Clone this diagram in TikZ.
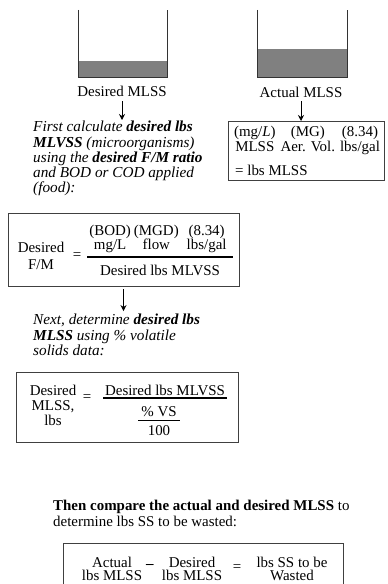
\documentclass[tikz,border=0pt]{standalone}
\usepackage{fontspec}
\setmainfont{Liberation Serif}
\usetikzlibrary{arrows,arrows.meta,positioning,shapes,calc}

\begin{document}
\begin{tikzpicture}[x=1bp, y=-1bp,
    every node/.style={inner sep=0pt, font=\fontsize{15}{16}\selectfont},
    note/.style={align=left, font=\itshape\fontsize{15.3}{15.3}\selectfont},
    tankwall/.style={line width=0.9pt, black!80},
    sludge/.style={fill=black!50},
    eqbox/.style={draw=black!75, line width=0.8pt, inner sep=0pt},
    fracbar/.style={line width=1.1pt},
    flow/.style={->, >={Stealth[length=6pt, width=6pt, inset=2pt]}, line width=0.8pt}]
  \clip (0,0) rectangle (387,584);

  % tanks
  \fill[sludge] (78,61) rectangle (167,77);
  \draw[tankwall] (78,10) -- (78,77) -- (167,77) -- (167,10);
  \fill[sludge] (257,49) rectangle (347,77);
  \draw[tankwall] (257,10) -- (257,77) -- (347,77) -- (347,10);
  \node (dlabel) at (122,91) {Desired MLSS};
  \node (alabel) at (301,92) {Actual MLSS};

  % actual lbs MLSS
  \node[eqbox, anchor=north west, minimum width=156bp, minimum height=59bp] (aerbox) at (228,121) {};
  \node (aerunits) at (307,141) {\begin{tabular}{@{}c@{\hspace{5pt}}c@{\hspace{5pt}}c@{}}(mg/\textit{L}) & (MG) & (8.34)\\[-1pt] MLSS & Aer. Vol. & lbs/gal\end{tabular}};
  \node[anchor=west] (aertotal) at (235,170) {= lbs MLSS};
  \draw[flow, shorten <=4pt] (alabel.south) -- (alabel.south |- aerbox.north);

  % desired lbs MLVSS
  \node[note, anchor=north west] (firststep) at (33,121) {First calculate \textbf{desired lbs}\\
    \textbf{MLVSS} (microorganisms)\\
    using the \textbf{desired F/M ratio}\\
    and BOD or COD applied\\
    (food):};
  \draw[flow, shorten <=5pt, shorten >=1pt] (dlabel.south) -- (dlabel.south |- firststep.north);

  \node[eqbox, minimum width=231bp, minimum height=73bp] (fmbox) at (123.5,249.5) {};
  \node[align=center, font=\fontsize{15}{17}\selectfont] (fmlhs) at (41,256) {Desired\\F/M};
  \node (fmeq) at (77,256) {=};
  \node (fmtop) at (158,239) {\begin{tabular}{@{}c@{\hspace{3pt}}c@{\hspace{8pt}}c@{}}(BOD) & (MGD) & (8.34)\\[-2pt] mg/L & flow & lbs/gal\end{tabular}};
  \draw[fracbar] (87,257) -- (233,257);
  \node (fmbottom) at (160,270) {Desired lbs MLVSS};

  % desired lbs MLSS
  \node[note, anchor=north west] (nextstep) at (33,314) {Next, determine \textbf{desired lbs}\\
    \textbf{MLSS} using \% volatile\\
    solids data:};
  \draw[flow, shorten <=3pt, shorten >=3pt] (fmbox.south) -- (fmbox.south |- nextstep.north);

  \node[eqbox, minimum width=222bp, minimum height=70bp] (vsbox) at (127,407) {};
  \node[align=center, font=\fontsize{15}{15}\selectfont] (vslhs) at (53,405) {Desired\\MLSS,\\lbs};
  \node (vseq) at (87,398) {=};
  \node (vstop) at (165,390) {Desired lbs MLVSS};
  \draw[fracbar] (103,398) -- (227,398);
  \node (vspct) at (159,412) {\% VS};
  \draw[line width=0.8pt] (138,420) -- (180,420);
  \node (vshundred) at (159,431) {100};

  % lbs SS to be wasted
  \node[anchor=north west, align=left] (thenstep) at (53,500) {\textbf{Then compare the actual and desired MLSS} to\\
    determine lbs SS to be wasted:};
  \node[eqbox, anchor=north west, minimum width=280bp, minimum height=60bp] (wastebox) at (63,543) {};
  \node[align=center, font=\fontsize{15}{13.5}\selectfont] (wactual) at (112,569) {Actual\\lbs MLSS};
  \node (wminus) at (150,566) {\textbf{--}};
  \node[align=center, font=\fontsize{15}{13.5}\selectfont] (wdesired) at (192,569) {Desired\\lbs MLSS};
  \node (weq) at (237,568) {=};
  \node[align=center, font=\fontsize{15}{13.5}\selectfont] (wwasted) at (292,569) {lbs SS to be\\Wasted};
\end{tikzpicture}
\end{document}
